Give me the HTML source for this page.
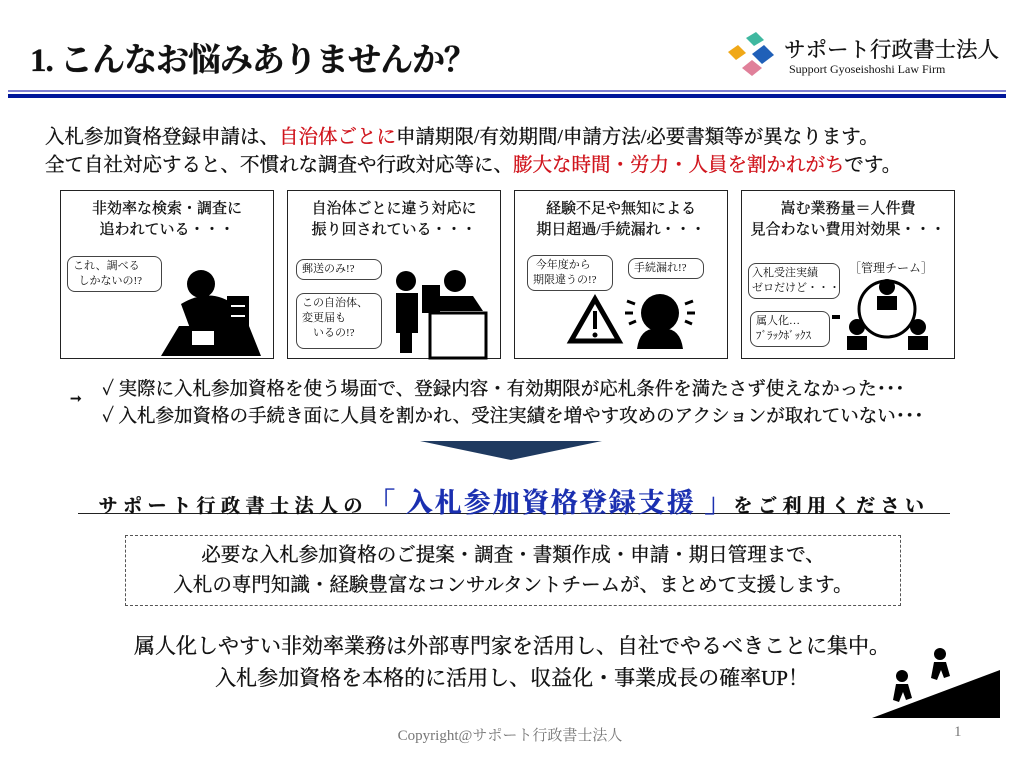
<!DOCTYPE html>
<html><head><meta charset="utf-8">
<style>
*{margin:0;padding:0;box-sizing:border-box}
body{width:1024px;height:767px;background:#fff;position:relative;overflow:hidden;font-family:"Liberation Serif","Noto Serif CJK SC",serif;color:#111;-webkit-text-stroke:0.35px #111}
.a{position:absolute;white-space:nowrap}
.c{text-align:center}
.red{color:#d0141c;-webkit-text-stroke:0.35px #d0141c}
.panel{position:absolute;border:1.5px solid #222;top:190px;height:169px;width:214px}
.panel .t{position:absolute;left:0;right:0;top:8px;text-align:center;font-size:15px;line-height:21px}
.bub{position:absolute;border:1.2px solid #444;border-radius:8px;font-size:11px;line-height:15px;background:#fff;padding:2px 5px;-webkit-text-stroke:0;white-space:nowrap}
</style></head><body>
<div class="a" style="left:30px;top:34px;font-size:33px;font-weight:bold;letter-spacing:-1px">1. こんなお悩みありませんか？</div>
<svg class="a" style="left:726px;top:30px" width="56" height="50">
<polygon points="20,8 30,2 38,10 28,16" fill="#3fb8a0"/>
<polygon points="2,22 12,15 20,23 10,30" fill="#f0a818"/>
<polygon points="26,24 38,15 48,25 36,34" fill="#2060b8"/>
<polygon points="16,38 26,30 36,38 26,46" fill="#e0809a"/>
</svg>
<div class="a" style="left:784px;top:33px;font-size:21.5px">サポート行政書士法人</div>
<div class="a" style="left:789px;top:62px;font-size:12px;-webkit-text-stroke:0">Support Gyoseishoshi Law Firm</div>
<div class="a" style="left:8px;top:90px;width:998px;height:2px;background:#7f7fd0"></div>
<div class="a" style="left:8px;top:94px;width:998px;height:4px;background:#00169a"></div>
<div class="a" style="left:45px;top:121px;font-size:19.5px">入札参加資格登録申請は、<span class="red">自治体ごとに</span>申請期限/有効期間/申請方法/必要書類等が異なります。</div>
<div class="a" style="left:45px;top:149px;font-size:19.5px">全て自社対応すると、不慣れな調査や行政対応等に、<span class="red">膨大な時間・労力・人員を割かれがち</span>です。</div>

<div class="panel" style="left:60px"><div class="t">非効率な検索・調査に<br>追われている・・・</div>
<div class="bub" style="left:6px;top:65px;width:95px">これ、調べる<br>&nbsp;&nbsp;しかないの!?</div>
<svg class="a" style="left:90px;top:55px" width="120" height="110"><circle cx="50" cy="38" r="14" fill="#000"/><path d="M30,58 Q60,40 85,60 L90,80 L40,85Z" fill="#000"/><polygon points="10,110 28,80 98,80 110,110" fill="#000"/><rect x="40" y="84" width="24" height="16" fill="#fff" stroke="#000" stroke-width="2"/><rect x="76" y="50" width="22" height="36" fill="#000"/><path d="M80,60h14M80,70h14" stroke="#fff" stroke-width="2"/></svg>
</div>
<div class="panel" style="left:287px"><div class="t">自治体ごとに違う対応に<br>振り回されている・・・</div>
<div class="bub" style="left:8px;top:68px;width:86px">郵送のみ!?</div>
<div class="bub" style="left:8px;top:102px;width:86px;height:56px">この自治体、<br>変更届も<br>&nbsp;&nbsp;&nbsp;&nbsp;いるの!?</div>
<svg class="a" style="left:100px;top:60px" width="110" height="110"><circle cx="18" cy="30" r="10" fill="#000"/><rect x="8" y="42" width="22" height="40" fill="#000"/><rect x="12" y="80" width="12" height="22" fill="#000"/><rect x="34" y="34" width="18" height="28" fill="#000"/><circle cx="67" cy="30" r="11" fill="#000"/><path d="M50,45 L85,45 L95,60 L50,60Z" fill="#000"/><rect x="42" y="62" width="56" height="45" fill="#fff" stroke="#000" stroke-width="3"/></svg>
</div>
<div class="panel" style="left:514px"><div class="t">経験不足や無知による<br>期日超過/手続漏れ・・・</div>
<div class="bub" style="left:12px;top:64px;width:86px">&nbsp;今年度から<br>期限違うの!?</div>
<div class="bub" style="left:113px;top:67px;width:76px">手続漏れ!?</div>
<svg class="a" style="left:50px;top:100px" width="150" height="60"><polygon points="30,8 6,50 54,50" fill="none" stroke="#000" stroke-width="5"/><rect x="28" y="20" width="4" height="18" fill="#000"/><circle cx="30" cy="44" r="2.5" fill="#000"/><circle cx="95" cy="22" r="19" fill="#000"/><path d="M72,58 Q75,35 95,38 Q115,35 118,58Z" fill="#000"/><path d="M62,10l8,3M60,22h8M64,33l7-3M120,13l8-3M122,22h8M120,30l7,3" stroke="#000" stroke-width="3"/></svg>
</div>
<div class="panel" style="left:741px"><div class="t">嵩む業務量＝人件費<br>見合わない費用対効果・・・</div>
<div class="bub" style="left:6px;top:72px;width:92px;padding:2px 3px">入札受注実績<br>ゼロだけど・・・</div>
<div class="bub" style="left:8px;top:120px;width:80px">属人化…<br>ﾌﾞﾗｯｸﾎﾞｯｸｽ</div>
<div class="a" style="left:107px;top:68px;font-size:12px;-webkit-text-stroke:0">［管理チーム］</div>
<svg class="a" style="left:90px;top:88px" width="120" height="80"><circle cx="55" cy="30" r="28" fill="none" stroke="#000" stroke-width="3"/><g fill="#000"><circle cx="55" cy="8" r="8"/><rect x="45" y="17" width="20" height="14"/><circle cx="25" cy="48" r="8"/><rect x="15" y="57" width="20" height="14"/><circle cx="86" cy="48" r="8"/><rect x="76" y="57" width="20" height="14"/></g><rect x="0" y="36" width="8" height="4" fill="#000"/></svg>
</div>

<div class="a" style="left:70px;top:391px;font-size:14px">➞</div>
<div class="a" style="left:102px;top:375px;font-size:18.5px">✓ 実際に入札参加資格を使う場面で、登録内容・有効期限が応札条件を満たさず使えなかった･･･</div>
<div class="a" style="left:102px;top:402px;font-size:18.5px">✓ 入札参加資格の手続き面に人員を割かれ、受注実績を増やす攻めのアクションが取れていない･･･</div>
<svg class="a" style="left:420px;top:441px" width="182" height="20"><polygon points="0,0 182,0 91,19" fill="#1f3a60"/></svg>
<div class="a c" style="left:78px;top:481px;width:872px;border-bottom:1.5px solid #222;height:33px;font-size:19px;font-weight:bold;letter-spacing:5.5px">サポート行政書士法人の<span style="color:#1a2fb0;-webkit-text-stroke:0.35px #1a2fb0;font-size:27px;letter-spacing:2px">「 入札参加資格登録支援 」</span>をご利用ください</div>
<div class="a" style="left:125px;top:535px;width:776px;height:71px;border:1px dashed #555"></div>
<div class="a c" style="left:125px;top:541px;width:776px;font-size:19.5px;line-height:30px">必要な入札参加資格のご提案・調査・書類作成・申請・期日管理まで、<br>入札の専門知識・経験豊富なコンサルタントチームが、まとめて支援します。</div>
<div class="a c" style="left:112px;top:630px;width:800px;font-size:21px;line-height:32px">属人化しやすい非効率業務は外部専門家を活用し、自社でやるべきことに集中。<br>入札参加資格を本格的に活用し、収益化・事業成長の確率UP！</div>
<svg class="a" style="left:872px;top:640px" width="130" height="80"><polygon points="0,78 128,78 128,30" fill="#000"/><g fill="#000"><circle cx="30" cy="36" r="6"/><path d="M24,44l12,0l4,14l-6,2l-3,-8l-4,10l-6,-2z"/><circle cx="68" cy="14" r="6"/><path d="M62,22l12,0l4,14l-6,2l-3,-8l-4,10l-6,-2z"/></g></svg>
<div class="a c" style="left:360px;top:724px;width:300px;font-size:15px;color:#777;-webkit-text-stroke:0">Copyright@サポート行政書士法人</div>
<div class="a" style="left:954px;top:724px;font-size:15px;color:#777;-webkit-text-stroke:0">1</div>
</body></html>
